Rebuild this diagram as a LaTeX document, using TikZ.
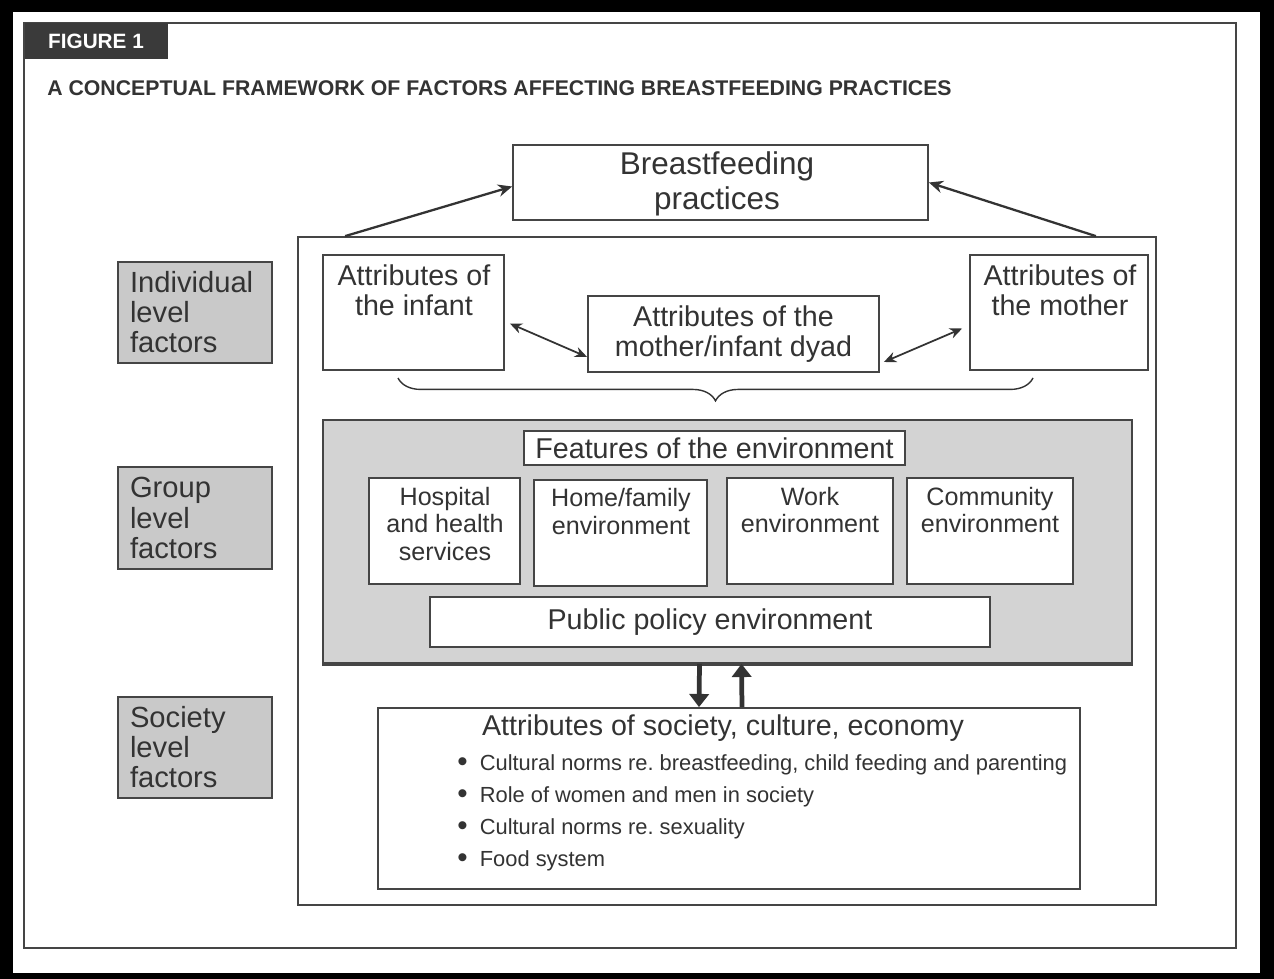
\documentclass[tikz,border=0pt]{standalone}
\usepackage{fontspec}
\setmainfont{Liberation Sans}
\usetikzlibrary{arrows.meta,decorations.pathreplacing}
\frenchspacing

\definecolor{ink}{HTML}{333333}
\definecolor{edge}{HTML}{454545}
\definecolor{tabgray}{HTML}{3A3A3A}
\definecolor{lvlgray}{HTML}{C9C9C9}
\definecolor{envgray}{HTML}{D3D3D3}

\newcommand{\blt}{\makebox[12.8pt][l]{\raisebox{-0.9pt}{\scalebox{1.35}{\textbullet}}}}

\tikzset{
  sz/.style 2 args={minimum width=#1*0.02cm, minimum height=#2*0.02cm},
  box/.style={draw=edge, line width=1pt, fill=white, inner sep=0pt, text=ink, align=center},
  lvlbox/.style={box, fill=lvlgray, align=left, text width=130*0.02cm, font=\fontsize{16.6}{17.1}\selectfont},
  txtL/.style={text=ink, align=center, inner sep=0pt, font=\fontsize{16.3}{17.1}\selectfont},
  txtS/.style={text=ink, align=center, inner sep=0pt, font=\fontsize{14.3}{15.4}\selectfont},
  link/.style={draw=ink, line width=1.3pt, -{Stealth[length=8pt,width=7pt]}},
  dbl/.style={draw=ink, line width=1pt, {Stealth[length=7pt,width=6pt]}-{Stealth[length=7pt,width=6pt]}},
  fat/.style={draw=ink, line width=2.7pt, -{Triangle[length=7.5pt,width=11pt]}},
}

\begin{document}
\begin{tikzpicture}[x=0.02cm, y=-0.02cm]
    \useasboundingbox (0,0) rectangle (1274,979);
    % frame
    \fill[black] (0,0) rectangle (1274,979);
    \fill[white] (13,12) rectangle (1260,973);
    \draw[edge, line width=0.9pt] (24,23) rectangle (1236,948);
    \node[fill=tabgray, sz={143}{36}, inner sep=0pt, text=white, font=\fontsize{11.8}{12}\selectfont\bfseries] (tab) at (96,41) {FIGURE 1};
    \node[anchor=west, inner sep=0pt, text=ink, font=\fontsize{12.1}{13}\selectfont\bfseries] (title) at (47,88) {A CONCEPTUAL FRAMEWORK OF FACTORS AFFECTING BREASTFEEDING PRACTICES};

    % levels
    \node[lvlbox, sz={154}{101}] (indiv) at (195,312.5) {Individual\\level\\factors};
    \node[lvlbox, sz={154}{102}] (group) at (195,518) {Group\\level\\factors};
    \node[lvlbox, sz={154}{101}] (soc) at (195,747.5) {Society\\level\\factors};

    % outcome and container
    \node[box, sz={415}{75}] (bf) at (720.5,182.5) {};
    \node[text=ink, inner sep=0pt, align=center, font=\fontsize{17.9}{19.9}\selectfont] (bftxt) at (717,184) {Breastfeeding\\practices};
    \node[box, sz={858}{668}] (frame) at (727,571) {};
    \draw[link] ([shift={(48,0)}]frame.north west) -- ([shift={(0,4)}]bf.west);
    \draw[link] ([shift={(-61,0)}]frame.north east) -- (bf.east);

    % individual level
    \node[box, sz={181}{115}] (infant) at (413.5,312.5) {};
    \node[txtL] (infanttxt) at (414,290) {Attributes of\\the infant};
    \node[box, sz={178}{115}] (mother) at (1059,312.5) {};
    \node[txtL] (mothertxt) at (1060,290) {Attributes of\\the mother};
    \node[box, sz={291}{76}, txtL] (dyad) at (733.5,334) {Attributes of the\\mother/infant dyad};
    \draw[dbl] ([shift={(5,11)}]infant.east) -- ([shift={(0,23)}]dyad.west);
    \draw[dbl] ([shift={(4,28)}]dyad.east) -- ([shift={(-7,16)}]mother.west);
    \draw[ink, line width=0.8pt, decorate, decoration={brace, mirror, amplitude=13pt}] (398,378) -- (1033,378);

    % group level
    \node[box, sz={809}{243}, fill=envgray] (env) at (727.5,541.5) {};
    \draw[edge, line width=2pt] (env.south west) -- (env.south east);
    \node[box, sz={381}{34}, txtL] (features) at (714.5,448) {Features of the environment};
    \node[box, sz={151}{106}] (hosp) at (444.5,531) {};
    \node[txtS] (hosptxt) at (445,524) {Hospital\\and health\\services};
    \node[box, sz={173}{106}] (home) at (620.5,533) {};
    \node[txtS] (hometxt) at (621,511.5) {Home/family\\environment};
    \node[box, sz={166}{106}] (work) at (810,531) {};
    \node[txtS] (worktxt) at (810,510) {Work\\environment};
    \node[box, sz={166}{106}] (comm) at (990,531) {};
    \node[txtS] (commtxt) at (990,510) {Community\\environment};
    \node[box, sz={560}{50}, txtL] (policy) at (710,622) {Public policy environment};

    % society level
    \node[box, sz={702}{181}] (society) at (729,798.5) {};
    \draw[fat] ([shift={(-28,0)}]env.south) -- ([shift={(-30,0)}]society.north);
    \draw[fat] ([shift={(13,0)}]society.north) -- ([shift={(14,0)}]env.south);
    \node[txtL] (societyttl) at (723,728) {Attributes of society, culture, economy};
    \node[anchor=north west, inner sep=0pt, text=ink, align=left, font=\fontsize{12.45}{18.2}\selectfont] (societylist) at (457,754)
      {\blt Cultural norms re. breastfeeding, child feeding and parenting\\
       \blt Role of women and men in society\\
       \blt Cultural norms re. sexuality\\
       \blt Food system};
\end{tikzpicture}
\end{document}
